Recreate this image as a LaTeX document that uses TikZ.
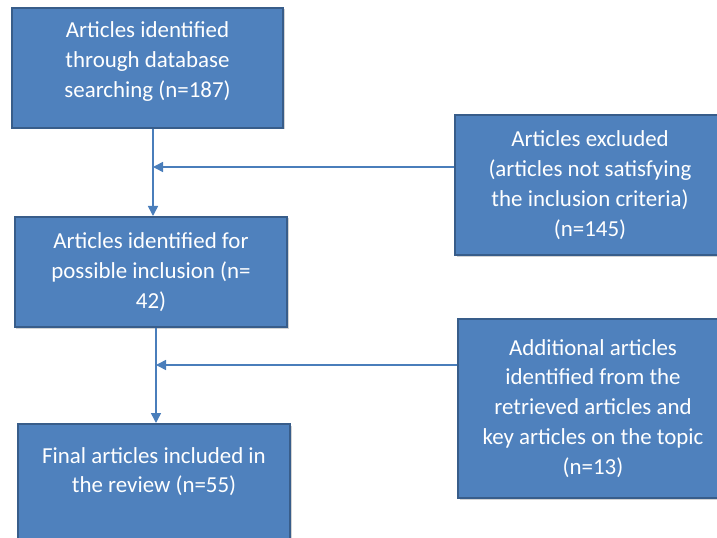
\documentclass[tikz,border=0pt]{standalone}
\usepackage{fontspec}
\setmainfont{Carlito}
\usetikzlibrary{positioning}
\usetikzlibrary{arrows.meta}
\usetikzlibrary{shadows}
\definecolor{boxfill}{HTML}{4F81BD}
\definecolor{boxline}{HTML}{385D8A}
\definecolor{linkline}{HTML}{4A7EBB}
\tikzset{
    stagebox/.style = {rectangle, draw=boxline, line width=2bp, fill=boxfill, text=white, align=center,
                       inner sep=0pt, font=\fontsize{23}{30}\selectfont,
                       drop shadow={shadow xshift=1.5bp, shadow yshift=-1.5bp, opacity=0.35}},
    flowedge/.style = {-{Triangle[length=10bp,width=10bp]}, line width=1.5bp, draw=linkline},
    joinedge/.style = {line width=1.5bp, draw=linkline},
}

\begin{document}
\begin{tikzpicture}[x=1bp, y=-1bp]
  \useasboundingbox (0,0) rectangle (717,538);

  \node[stagebox, minimum width=271bp, minimum height=120bp, text depth=17bp] at (147.5,68) (found) {Articles identified\\through database\\searching (n=187)};
  \node[stagebox, minimum width=270bp, minimum height=140bp] at (590,185) (excluded) {Articles excluded\\(articles not satisfying\\the inclusion criteria)\\(n=145)};
  \node[stagebox, minimum width=272bp, minimum height=110bp] at (151,272) (possible) {Articles identified for\\possible inclusion (n=\\42)};
  \node[stagebox, minimum width=270bp, minimum height=179bp] at (593,408.5) (additional) {Additional articles\\identified from the\\retrieved articles and\\key articles on the topic\\(n=13)};
  \node[stagebox, minimum width=272bp, minimum height=126bp, text depth=34bp] at (154,487) (final) {Final articles included in\\the review (n=55)};

  \coordinate (j1) at (153,167);
  \coordinate (j2) at (156,365);

  \draw[flowedge] (j1 |- found.south) -- (j1 |- possible.north);
  \draw[flowedge] (excluded.west |- j1) -- (j1);
  \draw[flowedge] (j2 |- possible.south) -- (j2 |- final.north);
  \draw[flowedge] (additional.west |- j2) -- (j2);
\end{tikzpicture}
\end{document}
